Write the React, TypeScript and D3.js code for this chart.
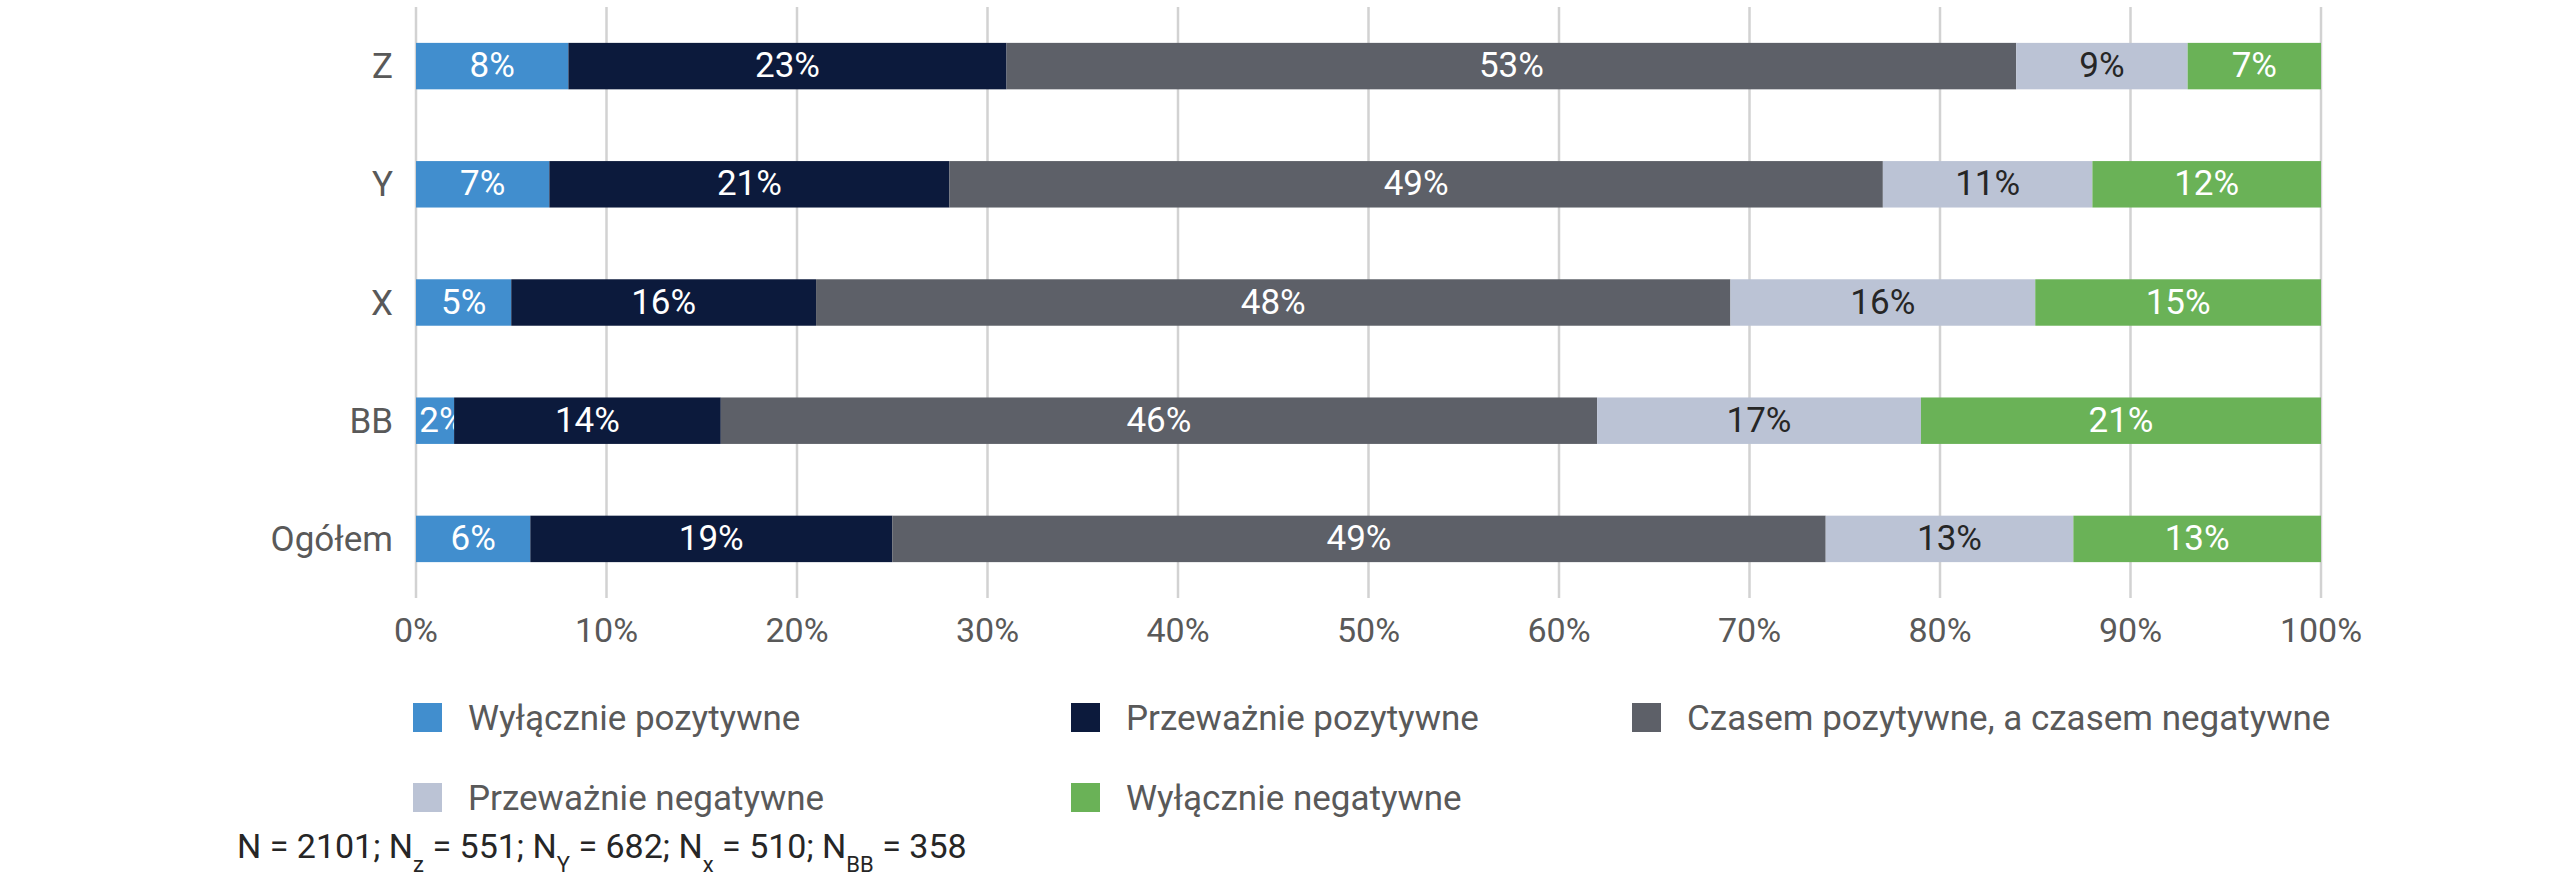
import { useMemo } from "react";
import { format, max, scaleBand, scaleLinear, stack } from "d3";

// categories top → bottom
const categories = ["Z", "Y", "X", "BB", "Ogółem"];

const seriesNames = [
  "Wyłącznie pozytywne",
  "Przeważnie pozytywne",
  "Czasem pozytywne, a czasem negatywne",
  "Przeważnie negatywne",
  "Wyłącznie negatywne"
];

// values in %, one entry per category
const wylaczniePozytywne = [8, 7, 5, 2, 6];
const przewazniePozytywne = [23, 21, 16, 14, 19];
const czasemPozNeg = [53, 49, 48, 46, 49];
const przewaznieNegatywne = [9, 11, 16, 17, 13];
const wylacznieNegatywne = [7, 12, 15, 21, 13];

const xTicks = [0, 10, 20, 30, 40, 50, 60, 70, 80, 90, 100];

const footnoteParts = [
  { main: "N = 2101; N", sub: "z" },
  { main: " = 551; N", sub: "Y" },
  { main: " = 682; N", sub: "x" },
  { main: " = 510; N", sub: "BB" },
  { main: " = 358", sub: "" }
];

const colors = ["#418ECE", "#0C1A3C", "#5D6068", "#BBC3D5", "#6AB257"];
const labelColors = ["#fff", "#fff", "#fff", "#262626", "#fff"];

const W = 2560;
const H = 884;
const margin = { left: 416, right: 239, top: 7, bottom: 286 };
const font = "Roboto, 'Noto Sans', sans-serif";
const textGray = "#595959";

export default function App() {
  const rows = useMemo(
    () =>
      categories.map((c, i) => ({
        category: c,
        s0: wylaczniePozytywne[i],
        s1: przewazniePozytywne[i],
        s2: czasemPozNeg[i],
        s3: przewaznieNegatywne[i],
        s4: wylacznieNegatywne[i]
      })),
    []
  );
  const keys = ["s0", "s1", "s2", "s3", "s4"];
  const stacked = useMemo(() => stack<any>().keys(keys)(rows), [rows]);

  const x = scaleLinear()
    .domain([0, max(xTicks) ?? 100])
    .range([margin.left, W - margin.right]);
  const y = scaleBand<string>()
    .domain(categories)
    .range([margin.top, H - margin.bottom])
    .paddingInner(0.607)
    .paddingOuter(0.3035);
  const bw = y.bandwidth();
  const pct = (v: number) => `${format("d")(v)}%`;

  const legendCols = [413, 1071, 1632];
  const legendRows = [703, 783];

  return (
    <div style={{ position: "absolute", left: 0, top: 0 }}>
      <svg width={W} height={H} style={{ display: "block", background: "#fff" }} fontFamily={font}>
        {/* grid */}
        {xTicks.map((t) => (
          <line
            key={t}
            x1={x(t)}
            x2={x(t)}
            y1={margin.top}
            y2={H - margin.bottom}
            stroke="#D2D2D2"
            strokeWidth={2.5}
          />
        ))}
        {/* bars */}
        {stacked.map((layer, li) => (
          <g key={layer.key}>
            {layer.map((d, di) => {
              const cat = categories[di];
              const x0 = x(d[0]);
              const x1 = x(d[1]);
              const yc = (y(cat) ?? 0) + bw / 2;
              const mid = Math.max((x0 + x1) / 2, x0 + 26);
              return (
                <g key={cat}>
                  <rect x={x0} y={y(cat)} width={x1 - x0} height={bw} fill={colors[li]} />
                  <text
                    x={mid}
                    y={yc + 11}
                    textAnchor="middle"
                    fontSize={35}
                    fill={labelColors[li]}
                  >
                    {pct(d[1] - d[0])}
                  </text>
                </g>
              );
            })}
          </g>
        ))}
        {/* category labels */}
        {categories.map((c) => (
          <text
            key={c}
            x={margin.left - 23}
            y={(y(c) ?? 0) + bw / 2 + 12}
            textAnchor="end"
            fontSize={35}
            fill={textGray}
          >
            {c}
          </text>
        ))}
        {/* x tick labels */}
        {xTicks.map((t) => (
          <text key={t} x={x(t)} y={642} textAnchor="middle" fontSize={34} fill={textGray}>
            {pct(t)}
          </text>
        ))}
        {/* legend */}
        {seriesNames.map((name, i) => {
          const lx = legendCols[i % 3];
          const ly = legendRows[Math.floor(i / 3)];
          return (
            <g key={name}>
              <rect x={lx} y={ly} width={29} height={29} fill={colors[i]} />
              <text x={lx + 55} y={ly + 27} fontSize={35} fill={textGray}>
                {name}
              </text>
            </g>
          );
        })}
        {/* footnote */}
        <text x={237} y={858} fontSize={34} fill="#262626">
          {footnoteParts.map((p, i) => (
            <tspan key={i}>
              <tspan dy={i === 0 ? 0 : -14}>{p.main}</tspan>
              {p.sub && (
                <tspan dy={14} fontSize={22}>
                  {p.sub}
                </tspan>
              )}
            </tspan>
          ))}
        </text>
      </svg>
    </div>
  );
}
